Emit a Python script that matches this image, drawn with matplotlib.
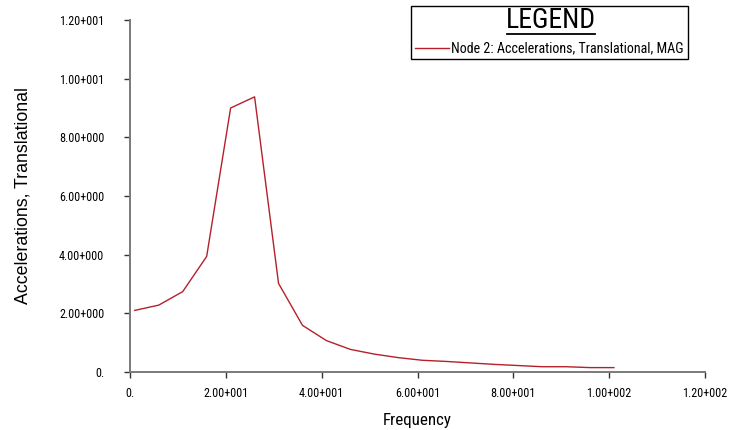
import matplotlib
matplotlib.use("Agg")
import matplotlib.pyplot as plt
from matplotlib.lines import Line2D
from matplotlib.patches import Rectangle

freq = [1, 6, 11, 16, 21, 26, 31, 36, 41, 46, 51, 56, 61, 66, 71, 76, 81, 86, 91, 96, 101]
accel = [2.10, 2.28, 2.74, 3.94, 9.00, 9.38, 3.02, 1.59, 1.07, 0.77, 0.61, 0.49, 0.40,
         0.36, 0.31, 0.26, 0.22, 0.18, 0.18, 0.15, 0.15]

xticks = [0, 20, 40, 60, 80, 100, 120]
xticklabels = ["0.", "2.00+001", "4.00+001", "6.00+001", "8.00+001", "1.00+002", "1.20+002"]
yticks = [0, 2, 4, 6, 8, 10, 12]
yticklabels = ["0.", "2.00+000", "4.00+000", "6.00+000", "8.00+000", "1.00+001", "1.20+001"]
series_label = "Node 2: Accelerations, Translational, MAG"

narrow = ["Roboto Condensed", "DejaVu Sans"]

fig = plt.figure(figsize=(7.42, 4.30), dpi=100)
ax = fig.add_axes([130/742, 1-372/430, (705-130)/742, (372-20)/430])
color = "#b5202a"
ax.plot(freq, accel, color=color, lw=1.0)
ax.set_xlim(0, 120)
ax.set_ylim(0, 12)
ax.set_xticks(xticks)
ax.set_xticklabels(xticklabels, fontfamily=narrow, fontsize=8.7)
ax.set_yticks(yticks)
ax.set_yticklabels(yticklabels, fontfamily=narrow, fontsize=8.7)
for s in ["top", "right"]:
    ax.spines[s].set_visible(False)
for s in ["left", "bottom"]:
    ax.spines[s].set_color("#7a7a7a")
    ax.spines[s].set_linewidth(1.4)
ax.tick_params(axis="both", direction="out", length=4.5, color="#333333", width=1.0)
ax.tick_params(axis="x", pad=6)
ax.tick_params(axis="y", pad=14)
ax.set_xlabel("Frequency", fontfamily=narrow, fontsize=12.2, labelpad=10)
ax.set_ylabel("Accelerations, Translational", fontfamily="Liberation Sans",
              fontsize=12.8, labelpad=20)

# legend box
fig.add_artist(Rectangle((411/742, 1-59/430), (688-411)/742, (59-6)/430,
                         transform=fig.transFigure, fill=False, ec="black", lw=1.0))
fig.text(551/742, 1-21/430, "LEGEND", ha="center", va="center",
         fontfamily=narrow, fontsize=20)
fig.add_artist(Line2D([507/742, 595/742], [1-33.5/430, 1-33.5/430],
                      transform=fig.transFigure, color="black", lw=1.3))
fig.add_artist(Line2D([415/742, 449/742], [1-48/430, 1-48/430],
                      transform=fig.transFigure, color=color, lw=1.0))
fig.text(451/742, 1-48/430, series_label, ha="left", va="center",
         fontfamily=narrow, fontsize=10.1)

fig.savefig("out.png", dpi=100)
